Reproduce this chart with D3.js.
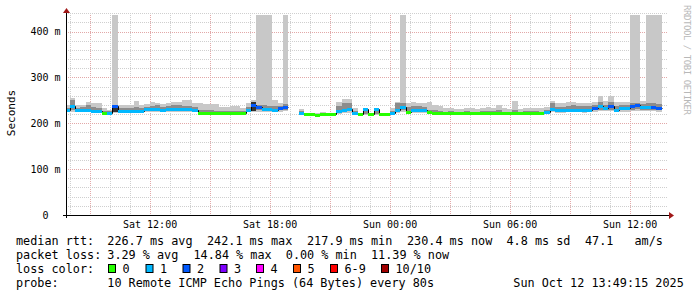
<!DOCTYPE html>
<html>
<head>
<meta charset="utf-8">
<script src="https://cdn.jsdelivr.net/npm/d3@7"></script>
<style>
body { margin: 0; background: #fff; }
svg text { font-family: "DejaVu Sans Mono", monospace; }
</style>
</head>
<body>
<svg id="chart" width="697" height="297"></svg>
<script>
// 16 minute consolidated columns, first one starts Sat 07:44
var median = [229,237,229,230,230,227,227,223,223,238, 227,227,226,227,227,231,231,232,230,231,
  232,232,231,231,230,223,223,223,223,223, 223,223,223,223,229,241,235,231,231,229,
  233,235,null,null,222,220,220,219,220,220, 220,226,229,232,223,220,232,220,232,220,
  220,223,229,236,225,228,228,228,224,223, 223,223,223,223,223,223,223,223,223,223,
  223,223,223,223,223,223,223,223,223,223, 224,231,228,228,229,229,230,228,230,233,
  238,234,238,230,233,233,238,240,236,236, 235,233];
var loss = [1,1,1,1,1,1,1,0,1,2, 1,1,1,1,1,1,1,1,1,1,
  1,1,1,1,1,0,0,0,0,0, 0,0,0,0,1,2,2,1,1,1,
  2,2,null,null,1,0,0,0,0,0, 0,1,1,1,1,0,1,0,1,0,
  0,1,1,1,0,1,1,1,0,0, 0,0,0,0,0,0,0,0,0,0,
  0,0,0,0,0,0,0,0,0,0, 1,1,1,1,1,1,1,1,1,2,
  1,1,2,1,1,1,2,2,1,1, 2,2];
var pingMax = [240,255,240,241,246,245,244,234,229,437, 240,241,241,248,240,243,246,245,243,245,
  247,247,251,250,244,245,243,243,243,236, 236,238,238,233,244,250,437,437,437,251,
  245,437,null,null,231,222,223,222,225,223, 222,247,254,254,233,222,234,222,234,222,
  223,233,247,437,244,246,245,245,246,240, 237,234,233,232,232,234,233,232,233,236,
  234,241,233,231,248,232,234,234,234,233, 236,249,244,244,246,246,244,244,244,247,
  260,248,260,247,246,246,437,437,248,437, 437,437];
var upperMid = [234,250,233,235,240,236,234,227,226,240, 233,234,233,236,233,236,238,240,236,238,
  240,240,238,237,235,230,228,228,227,226, 226,226,226,226,235,246,240,240,238,238,
  238,242,null,null,226,221,221,221,221,221, 221,238,245,244,227,221,233,221,233,221,
  221,226,244,244,236,238,238,236,230,228, 226,225,226,225,225,226,225,225,226,226,
  226,228,225,225,230,225,226,226,226,225, 228,245,236,236,238,240,238,237,238,240,
  247,241,247,238,240,240,244,245,242,244, 245,242];
var lowerMid = [226,228,226,226,227,225,225,222,222,225, 225,225,224,225,224,227,228,228,227,227,
  228,228,227,227,226,222,222,222,222,222, 222,222,222,222,226,226,228,227,227,226,
  228,228,null,null,221,219,219,216,219,219, 219,223,225,226,221,219,221,219,221,219,
  219,221,225,228,223,225,225,225,222,222, 222,222,222,222,222,222,222,222,222,222,
  222,222,222,222,222,222,222,222,222,222, 222,227,225,225,226,226,226,225,226,228,
  230,229,230,226,228,228,230,231,229,229, 229,228];
var pingMin = [224,225,224,224,224,223,223,221,221,223, 223,223,222,223,222,224,225,225,224,224,
  225,225,224,224,224,221,221,221,221,221, 221,221,221,221,224,224,225,225,225,224,
  225,226,null,null,220,218,218,215,218,218, 218,221,222,223,220,218,219,218,219,218,
  218,220,223,225,222,223,223,223,221,221, 221,221,221,221,221,221,221,221,221,221,
  221,221,221,221,221,221,221,221,221,221, 221,224,223,223,224,224,224,223,224,225,
  226,226,226,224,225,225,226,227,226,226, 226,225];
var darkSmoke = [[9, 225, 238], [35, 226, 246]];

var lossNames = ["0", "1", "2", "3", "4", "5", "6-9", "10/10"];
var lossColors = ["#26ff00", "#00b8ff", "#0059ff", "#7e00ff", "#ff00ff", "#ff5500", "#ff0000", "#a10000"];
var rttStats = ["226.7 ms avg", "242.1 ms max", "217.9 ms min", "230.4 ms now", "4.8 ms sd", "47.1", "am/s"];
var lossStats = ["3.29 % avg", "14.84 % max", "0.00 % min", "11.39 % now"];
var probeText = "10 Remote ICMP Echo Pings (64 Bytes) every 80s";
var stampText = "Sun Oct 12 13:49:15 2025";
var yTicks = [0, 100, 200, 300, 400];

var svg = d3.select("#chart");
var x0 = 66, x1 = 666, yBottom = 215;

var x = d3.scaleTime()
  .domain([new Date(2025, 9, 11, 7, 49, 15), new Date(2025, 9, 12, 13, 49, 15)])
  .range([x0, x1]);
var y = d3.scaleLinear().domain([0, 440]).range([yBottom, 13.3]);

var cols = median.map(function(m, i) {
  return {
    t0: new Date(2025, 9, 11, 7, 44 + 16 * i),
    t1: new Date(2025, 9, 11, 7, 60 + 16 * i),
    med: m, loss: loss[i], hi: pingMax[i], hi2: upperMid[i], lo2: lowerMid[i], lo: pingMin[i]
  };
});
var live = cols.filter(function(c) { return c.med != null; });

svg.append("defs").append("clipPath").attr("id", "plot")
  .append("rect").attr("x", x0 + 1).attr("y", 0).attr("width", x1 - x0 + 1).attr("height", yBottom);

// grid
var grid = svg.append("g");
var hours = d3.timeHour.range(x.domain()[0], x.domain()[1]);
grid.selectAll("line.v").data(hours).enter().append("line")
  .attr("x1", function(d) { return Math.round(x(d)) + 0.5; })
  .attr("x2", function(d) { return Math.round(x(d)) + 0.5; })
  .attr("y1", 13).attr("y2", yBottom)
  .attr("stroke", function(d) { return d.getHours() % 3 == 0 ? "#e2a8a8" : "#cfcfcf"; })
  .attr("stroke-dasharray", "1,1");
grid.selectAll("line.h").data(d3.range(20, 441, 20)).enter().append("line")
  .attr("x1", x0).attr("x2", x1 + 2)
  .attr("y1", function(d) { return Math.round(y(d)) + 0.5; })
  .attr("y2", function(d) { return Math.round(y(d)) + 0.5; })
  .attr("stroke", function(d) { return d % 100 == 0 ? "#e2a8a8" : "#cfcfcf"; })
  .attr("stroke-dasharray", "1,1");

// smoke
var plot = svg.append("g").attr("clip-path", "url(#plot)");
function band(key1, key2, fill) {
  plot.append("g").selectAll("rect").data(live).enter().append("rect")
    .attr("shape-rendering", "crispEdges")
    .attr("x", function(d) { return x(d.t0); })
    .attr("width", function(d) { return x(d.t1) - x(d.t0); })
    .attr("y", function(d) { return y(d[key2]); })
    .attr("height", function(d) { return y(d[key1]) - y(d[key2]); })
    .attr("fill", fill);
}
band("lo", "hi", "#c8c8c8");
band("lo2", "hi2", "#8c8c8c");
plot.append("g").selectAll("rect").data(darkSmoke).enter().append("rect")
  .attr("shape-rendering", "crispEdges")
  .attr("x", function(d) { return x(cols[d[0]].t0); })
  .attr("width", function(d) { return x(cols[d[0]].t1) - x(cols[d[0]].t0); })
  .attr("y", function(d) { return y(d[2]); })
  .attr("height", function(d) { return y(d[1]) - y(d[2]); })
  .attr("fill", "#333");

// median step line + loss coloured bars
var steps = [];
cols.forEach(function(c) { steps.push([c.t0, c.med]); steps.push([c.t1, c.med]); });
plot.append("path")
  .datum(steps)
  .attr("fill", "none").attr("stroke", "#000").attr("stroke-width", 1)
  .attr("d", d3.line()
    .defined(function(d) { return d[1] != null; })
    .x(function(d) { return Math.round(x(d[0])) + 0.5; })
    .y(function(d) { return Math.round(y(d[1])) + 0.5; }));
plot.append("g").selectAll("rect").data(live).enter().append("rect")
  .attr("shape-rendering", "crispEdges")
  .attr("x", function(d) { return x(d.t0); })
  .attr("width", function(d) { return x(d.t1) - x(d.t0); })
  .attr("y", function(d) { return Math.round(y(d.med)) - 1; })
  .attr("height", 3)
  .attr("fill", function(d) { return lossColors[d.loss]; });

// axes
svg.append("line").attr("x1", 63).attr("x2", 669).attr("y1", yBottom + 0.5).attr("y2", yBottom + 0.5)
  .attr("stroke", "#000");
svg.append("line").attr("x1", x0 + 0.5).attr("x2", x0 + 0.5).attr("y1", yBottom + 3).attr("y2", 12)
  .attr("stroke", "#000");
svg.append("path").attr("d", "M669,212L674,215.5L669,219Z").attr("fill", "#a01818");
svg.append("path").attr("d", "M63,13L66.5,8L70,13Z").attr("fill", "#a01818");

var yAxis = svg.append("g").attr("transform", "translate(" + x0 + ",0)")
  .call(d3.axisLeft(y).tickValues(yTicks).tickSize(0).tickPadding(5.5)
    .tickFormat(function(d) { return d == 0 ? "0" : d + " m"; }));
yAxis.select(".domain").remove();
yAxis.selectAll("text").style("font-size", "10px").attr("fill", "#000")
  .attr("dx", function(d) { return d == 0 ? -12 : 0; });

var xAxis = svg.append("g").attr("transform", "translate(0," + yBottom + ")")
  .call(d3.axisBottom(x).tickValues(d3.timeHour.every(6).range(x.domain()[0], x.domain()[1]))
    .tickSize(0).tickPadding(5.4).tickFormat(d3.timeFormat("%a %H:%M")));
xAxis.select(".domain").remove();
xAxis.selectAll("text").style("font-size", "10px").attr("fill", "#000");

svg.append("text").attr("transform", "translate(15,113) rotate(-90)")
  .attr("text-anchor", "middle").style("font-size", "11px").text("Seconds");
svg.append("text").attr("transform", "translate(684,5) rotate(90)")
  .style("font-size", "9px").attr("fill", "#b8b8b8")
  .attr("textLength", 110).attr("lengthAdjust", "spacing")
  .text("RRDTOOL / TOBI OETIKER");

// legend
var legend = svg.append("g").style("font-size", "11.8px").attr("fill", "#000");
function put(xp, yp, s) { legend.append("text").attr("x", xp).attr("y", yp).text(s); }
put(16, 245, "median rtt:");
[107.3, 207, 307, 407, 506.5, 585, 634.5].forEach(function(xp, i) { put(xp, 245, rttStats[i]); });
put(16, 259, "packet loss:");
[107.3, 193.5, 285.8, 371].forEach(function(xp, i) { put(xp, 259, lossStats[i]); });
put(16, 273, "loss color:");
[108, 145.5, 182.5, 219.5, 256, 293, 330, 381].forEach(function(xp, i) {
  legend.append("rect").attr("x", xp + 0.5).attr("y", 264.5).attr("width", 7).attr("height", 8)
    .attr("fill", lossColors[i]).attr("stroke", "#000");
  put(xp + 14.5, 273, lossNames[i]);
});
put(16, 287, "probe:");
put(107.3, 287, probeText);
put(513.3, 287, stampText);
</script>
</body>
</html>
